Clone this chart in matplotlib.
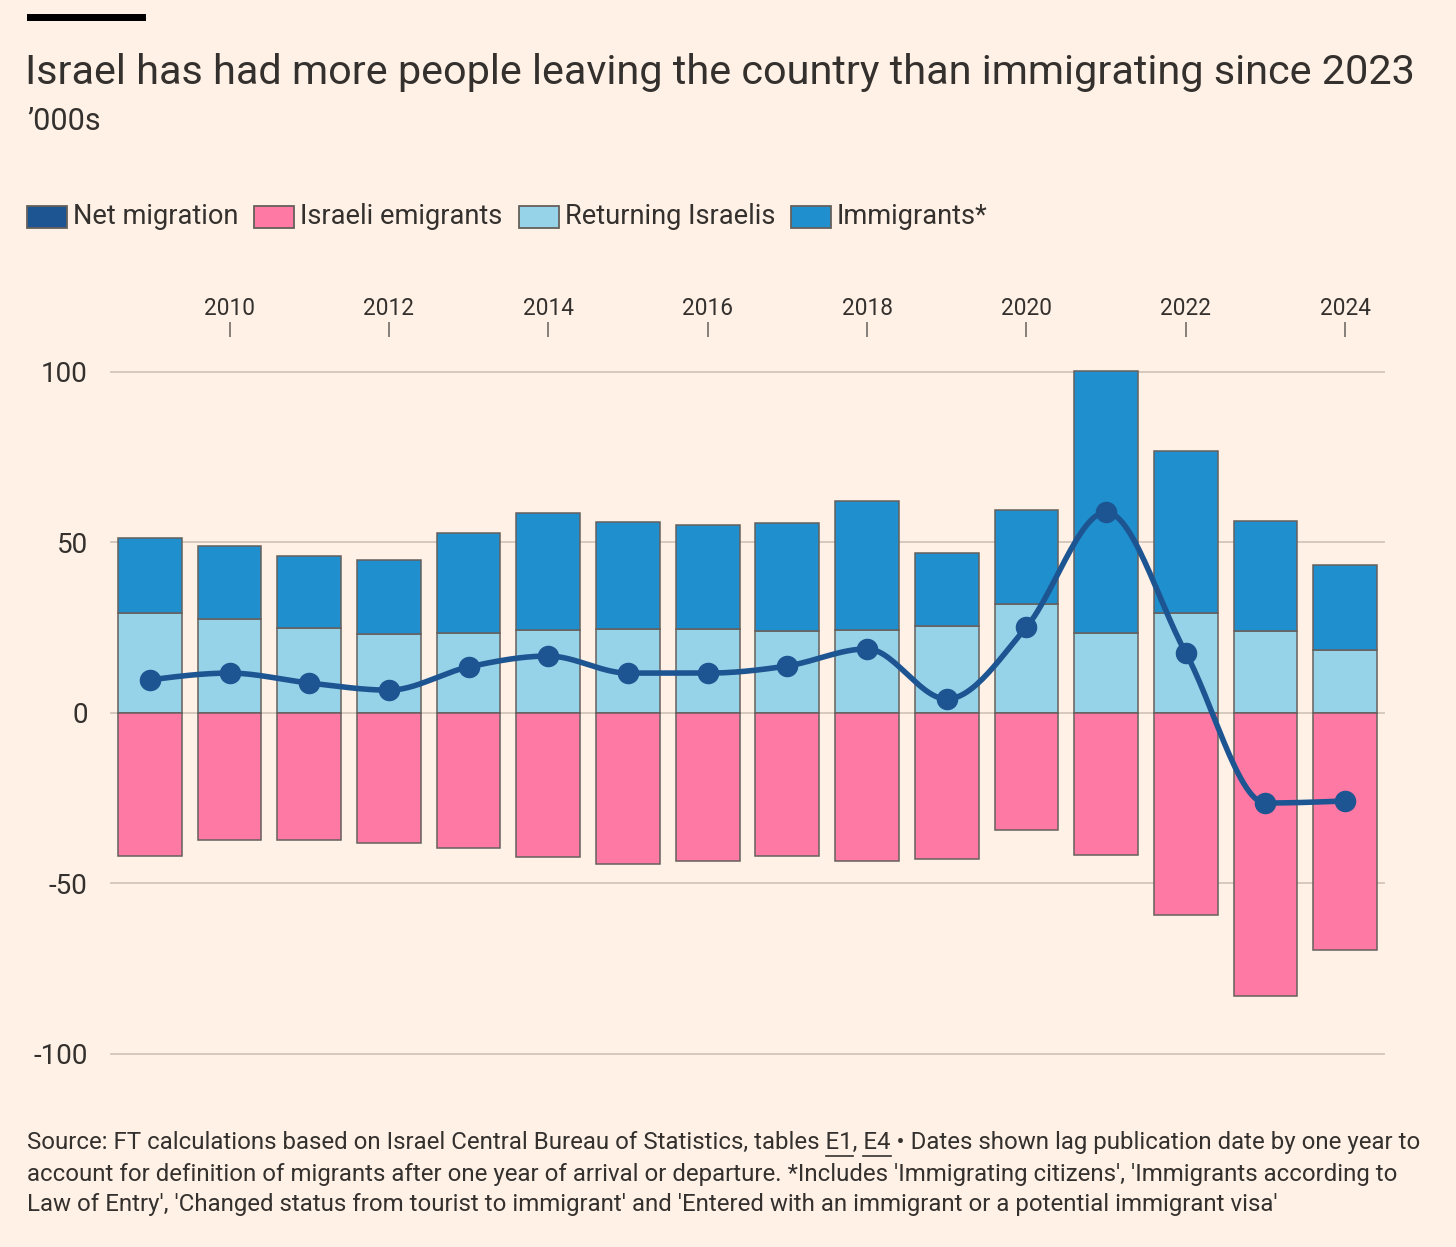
import matplotlib
matplotlib.use("Agg")
import matplotlib.pyplot as plt
from matplotlib.lines import Line2D
from matplotlib.patches import Rectangle
import numpy as np

# values in '000s
YEARS = list(range(2009, 2025))
RETURNING = [29.3, 27.6, 24.9, 23.2, 23.5, 24.3, 24.6, 24.6, 24.0, 24.3, 25.5, 32.0, 23.5, 29.3, 24.0, 18.5]
IMMIGRANTS = [22.0, 21.4, 21.1, 21.7, 29.3, 34.4, 31.4, 30.5, 31.7, 37.9, 21.4, 27.5, 76.8, 47.5, 32.3, 24.9]
EMIGRANTS = [-41.9, -37.2, -37.2, -38.1, -39.6, -42.2, -44.3, -43.4, -41.9, -43.4, -42.8, -34.3, -41.6, -59.2, -83.0, -69.5]
NET = [9.7, 11.7, 8.8, 6.7, 13.5, 16.7, 11.7, 11.7, 13.8, 18.8, 4.1, 25.2, 58.9, 17.6, -26.4, -25.8]

TOP_TICKS = list(range(2010, 2025, 2))
Y_TICKS = [-100, -50, 0, 50, 100]
LEGEND_LABELS = ["Net migration", "Israeli emigrants", "Returning Israelis", "Immigrants*"]

TITLE = "Israel has had more people leaving the country than immigrating since 2023"
SUBTITLE = "\u2019000s"
FOOT_LINES = [
    "Source: FT calculations based on Israel Central Bureau of Statistics, tables E1, E4 \u2022 Dates shown lag publication date by one year to",
    "account for definition of migrants after one year of arrival or departure. *Includes 'Immigrating citizens', 'Immigrants according to",
    "Law of Entry', 'Changed status from tourist to immigrant' and 'Entered with an immigrant or a potential immigrant visa'",
]

BG = "#fff1e5"
TEXT = "#33302e"
EDGE = "#66605c"
GRID = "#cec3b8"
C_NET = "#1d5592"
C_EMIG = "#ff79a5"
C_RET = "#96d2e8"
C_IMM = "#1f8fce"

plt.rcParams["font.family"] = ["Roboto", "DejaVu Sans"]
plt.rcParams["axes.unicode_minus"] = False

W, H, DPI = 1456, 1247, 100
FOOT_SIZE = 17.3


def fx(x):
    return x / W


def fy(y):
    return 1 - y / H


def monotone_curve(x, y, n=30):
    """Monotone cubic (d3 curveMonotoneX style) through the points."""
    x = np.asarray(x, float)
    y = np.asarray(y, float)
    h = np.diff(x)
    s = np.diff(y) / h
    t = np.zeros_like(y)
    for i in range(1, len(y) - 1):
        s0, s1 = s[i - 1], s[i]
        p = (s0 * h[i] + s1 * h[i - 1]) / (h[i - 1] + h[i])
        t[i] = (np.sign(s0) + np.sign(s1)) * min(abs(s0), abs(s1), 0.5 * abs(p))
    t[0] = (3 * s[0] - t[1]) / 2
    t[-1] = (3 * s[-1] - t[-2]) / 2
    xs, ys = [], []
    for i in range(len(y) - 1):
        u = np.linspace(0, 1, n)
        h00 = 2 * u**3 - 3 * u**2 + 1
        h10 = u**3 - 2 * u**2 + u
        h01 = -2 * u**3 + 3 * u**2
        h11 = u**3 - u**2
        xs.append(x[i] + u * h[i])
        ys.append(h00 * y[i] + h10 * h[i] * t[i] + h01 * y[i + 1] + h11 * h[i] * t[i + 1])
    return np.concatenate(xs), np.concatenate(ys)


fig = plt.figure(figsize=(W / DPI, H / DPI), dpi=DPI, facecolor=BG)

# header
fig.add_artist(Rectangle((fx(27), fy(21)), fx(146) - fx(27), fy(14) - fy(21),
                         transform=fig.transFigure, color="black", lw=0))
fig.text(fx(25), fy(72), TITLE, fontsize=29.8, color=TEXT, va="center")
fig.text(fx(27), fy(122), SUBTITLE, fontsize=22, color=TEXT, va="center")

# plot area
y_top, y_bot = 337, 1057.4
ax = fig.add_axes([fx(110), fy(y_bot), fx(1385) - fx(110), fy(y_top) - fy(y_bot)])
ax.set_facecolor(BG)
ax.set_xlim(2008.5, 2024.5)
ax.set_ylim(-101, 110.26)

ax.bar(YEARS, RETURNING, width=0.8, color=C_RET, edgecolor=EDGE, linewidth=1.1, zorder=2, clip_on=False)
ax.bar(YEARS, IMMIGRANTS, bottom=RETURNING, width=0.8, color=C_IMM, edgecolor=EDGE, linewidth=1.1,
       zorder=2, clip_on=False)
ax.bar(YEARS, EMIGRANTS, width=0.8, color=C_EMIG, edgecolor=EDGE, linewidth=1.1, zorder=2, clip_on=False)

cx, cy = monotone_curve(YEARS, NET)
ax.plot(cx, cy, color=C_NET, lw=4, zorder=4, solid_capstyle="round")
ax.plot(YEARS, NET, "o", color=C_NET, markersize=14.5, zorder=5)

for s in ax.spines.values():
    s.set_visible(False)
ax.set_axisbelow(True)
ax.set_yticks(Y_TICKS)
ax.grid(axis="y", color=GRID, lw=1.2)
ax.tick_params(axis="y", length=0, pad=16, labelsize=20, labelcolor=TEXT)

ax.xaxis.tick_top()
ax.set_xticks(TOP_TICKS)
ax.tick_params(axis="x", length=10.8, width=1.1, color=EDGE, pad=1.5, labelsize=16.3, labelcolor=TEXT)

fig.canvas.draw()
renderer = fig.canvas.get_renderer()

# legend, laid out left to right
leg_colors = [C_NET, C_EMIG, C_RET, C_IMM]
x = 27
for label, col in zip(LEGEND_LABELS, leg_colors):
    fig.add_artist(Rectangle((fx(x), fy(228)), fx(40), fy(206) - fy(228), transform=fig.transFigure,
                             facecolor=col, edgecolor=EDGE, lw=1.3))
    t = fig.text(fx(x + 46), fy(217), label, fontsize=19.6, color=TEXT, va="center")
    bb = t.get_window_extent(renderer)
    x = bb.x1 + 16

# footnote
foot_y = [1143, 1174, 1205]
for line, yy in zip(FOOT_LINES, foot_y):
    fig.text(fx(27), fy(yy), line, fontsize=FOOT_SIZE, color=TEXT, va="center")

# underline the table references
first = FOOT_LINES[0]
for ref in ["E1", "E4"]:
    i = first.index(ref)
    pre = fig.text(fx(27), fy(1143), first[:i], fontsize=FOOT_SIZE, va="center", alpha=0)
    whole = fig.text(fx(27), fy(1143), first[:i + len(ref)], fontsize=FOOT_SIZE, va="center", alpha=0)
    x0 = pre.get_window_extent(renderer).x1
    x1 = whole.get_window_extent(renderer).x1
    fig.add_artist(Line2D([x0 / W, x1 / W], [fy(1156)] * 2, transform=fig.transFigure, color=TEXT, lw=1.2))

fig.savefig("out.png", dpi=DPI, facecolor=BG)
